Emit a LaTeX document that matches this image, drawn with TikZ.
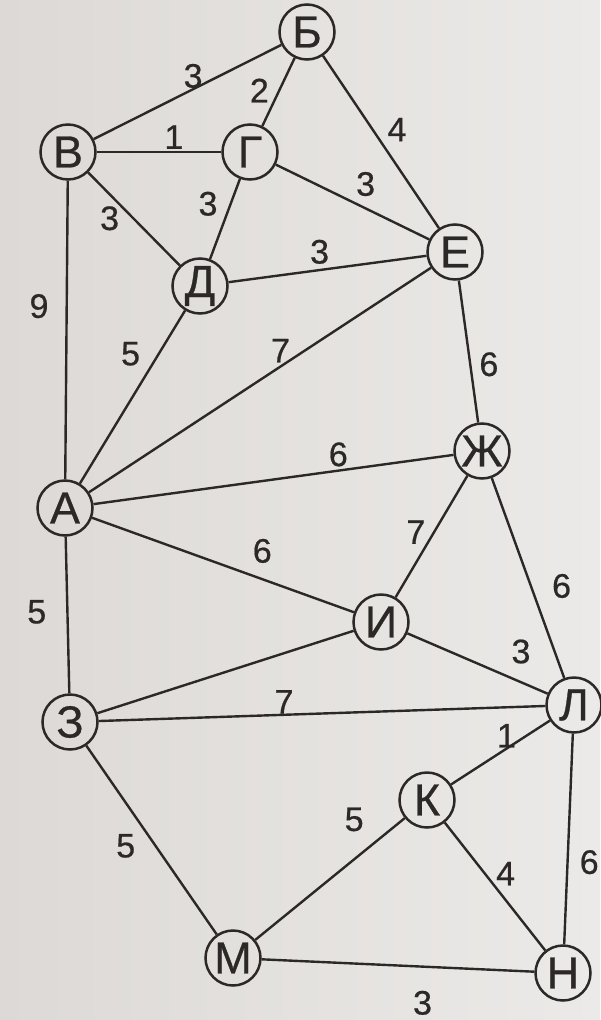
\documentclass[tikz,border=0pt]{standalone}
\usepackage{fontspec}
\setmainfont{Liberation Sans}
\newfontfamily\inkfont[FakeBold=0.6]{Liberation Sans}
\usepackage{tikz}
\definecolor{ink}{HTML}{2B2827}
\definecolor{paperL}{HTML}{DCD9D6}
\definecolor{paperR}{HTML}{ECEAE8}

\begin{document}
\begin{tikzpicture}[
  x=1pt,y=-1pt,
  vtx/.style={circle,draw=ink,line width=2.5pt,minimum size=55pt,inner sep=0pt,
              text=ink,font=\inkfont\fontsize{45}{45}\selectfont},
  wt/.style={inner sep=1pt,text=ink,font=\inkfont\fontsize{34}{34}\selectfont},
  lnk/.style={draw=ink,line width=2.4pt}
]
\useasboundingbox (0,0) rectangle (600,1020);
\fill[left color=paperL,right color=paperR] (0,0) rectangle (600,1020);

\node[vtx] (B)  at (307,32)  {Б};
\node[vtx] (V)  at (68,152)  {В};
\node[vtx] (G)  at (250,152) {Г};
\node[vtx] (D)  at (200,286) {Д};
\node[vtx] (E)  at (455,252) {Е};
\node[vtx] (Zh) at (482,451) {Ж};
\node[vtx] (A)  at (65,508)  {А};
\node[vtx] (I)  at (381,622) {И};
\node[vtx] (Z)  at (70,722)  {З};
\node[vtx] (L)  at (574,705) {Л};
\node[vtx] (K)  at (427,800) {К};
\node[vtx] (M)  at (233,958) {М};
\node[vtx] (N)  at (563,973) {Н};

\draw[lnk] (V) -- node[wt,pos=.53,above=-1pt]{3} (B);
\draw[lnk] (G) -- node[wt,pos=.3,above left=1pt]{2} (B);
\draw[lnk] (B) -- node[wt,pos=.52,above right=2pt]{4} (E);
\draw[lnk] (V) -- node[wt,pos=.62,above=1pt]{1} (G);
\draw[lnk] (V) -- node[wt,pos=.35,below left=-1pt]{3} (D);
\draw[lnk] (G) -- node[wt,pos=.31,left=11pt]{3} (D);
\draw[lnk] (G) -- node[wt,pos=.49,above right=3pt]{3} (E);
\draw[lnk] (D) -- node[wt,pos=.46,above=4pt]{3} (E);
\draw[lnk] (V) -- node[wt,pos=.42,left=16pt]{9} (A);
\draw[lnk] (D) -- node[wt,pos=.36,above left=5pt]{5} (A);
\draw[lnk] (A) -- node[wt,pos=.56,above=2pt]{7} (E);
\draw[lnk] (E) -- node[wt,pos=.59,right=7pt]{6} (Zh);
\draw[lnk] (A) -- node[wt,pos=.68,above=2pt]{6} (Zh);
\draw[lnk] (Zh) -- node[wt,pos=.57,above left=-1pt]{7} (I);
\draw[lnk] (A) -- node[wt,pos=.65,above=14pt]{6} (I);
\draw[lnk] (Zh) -- node[wt,pos=.54,right=19pt]{6} (L);
\draw[lnk] (A) -- node[wt,pos=.48,left=19pt]{5} (Z);
\draw[lnk] (I) -- node[wt,pos=.67,above right=8pt]{3} (L);
\draw[lnk] (Z) -- (I);
\draw[lnk] (Z) -- node[wt,pos=.415,above=-1pt]{7} (L);
\draw[lnk] (K) -- node[wt,pos=.56,above=-1pt]{1} (L);
\draw[lnk] (Z) -- node[wt,pos=.43,below left=5pt]{5} (M);
\draw[lnk] (M) -- node[wt,pos=.8,above left=9pt]{5} (K);
\draw[lnk] (K) -- node[wt,pos=.5,above right=-1pt]{4} (N);
\draw[lnk] (L) -- node[wt,pos=.61,right=10pt]{6} (N);
\draw[lnk] (M) -- node[wt,pos=.59,below=22pt]{3} (N);
\end{tikzpicture}
\end{document}
